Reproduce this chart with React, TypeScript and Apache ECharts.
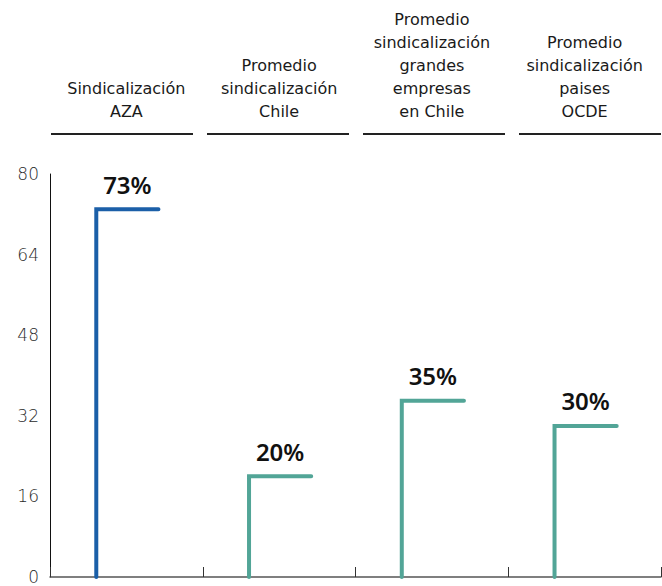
import React, { useEffect, useRef } from "react";
import * as echarts from "echarts";

const categories = [
  "Sindicalización\nAZA",
  "Promedio\nsindicalización\nChile",
  "Promedio\nsindicalización\ngrandes\nempresas\nen Chile",
  "Promedio\nsindicalización\npaises\nOCDE",
];
const values = [73, 20, 35, 30];
const colors = ["#1b5fa8", "#52a597"];
const yTicks = { min: 0, max: 80, interval: 16 };

const FONT = "'DejaVu Sans', 'Noto Sans', sans-serif";

export default function App() {
  const ref = useRef<HTMLDivElement>(null);
  useEffect(() => {
    if (!ref.current) return;
    const chart = echarts.init(ref.current, null, { renderer: "svg" });
    const underlines = [
      [51, 193],
      [207, 349],
      [363, 505],
      [519, 661],
    ];
    chart.setOption({
      animation: false,
      grid: { left: 50, right: 1, top: 174, bottom: 9, containLabel: false },
      xAxis: [
        {
          type: "category",
          data: categories,
          position: "bottom",
          boundaryGap: true,
          axisLine: { show: true, lineStyle: { color: "#555", width: 1.5 } },
          axisTick: { show: true, inside: true, length: 10, lineStyle: { color: "#333", width: 1 } },
          axisLabel: { show: false },
        },
        {
          type: "category",
          data: categories,
          position: "top",
          axisLine: { show: false },
          axisTick: { show: false },
          axisLabel: {
            show: true,
            interval: 0,
            hideOverlap: false,
            margin: 51,
            fontSize: 16,
            lineHeight: 23,
            color: "#1a1a1a",
            fontFamily: FONT,
            fontWeight: "normal",
            align: "center",
            verticalAlign: "bottom",
          },
        },
      ],
      yAxis: {
        type: "value",
        min: yTicks.min,
        max: yTicks.max,
        interval: yTicks.interval,
        axisLine: { show: true, lineStyle: { color: "#111", width: 1 } },
        axisTick: { show: false },
        splitLine: { show: false },
        axisLabel: { color: "#2a2a2a", fontSize: 17, fontFamily: FONT, fontWeight: 200, margin: 11 },
      },
      graphic: underlines.map(([a, b]) => ({
        type: "line",
        shape: { x1: a, y1: 134, x2: b, y2: 134 },
        style: { stroke: "#222", lineWidth: 2 },
      })),
      series: [
        {
          type: "custom",
          xAxisIndex: 0,
          data: values.map((v, i) => [i, v]),
          renderItem: (params: any, api: any) => {
            const i = api.value(0);
            const v = api.value(1);
            const base = api.coord([i, 0]);
            const top = api.coord([i, v]);
            const bw = api.size([1, 0])[0];
            const x0 = base[0] - bw * 0.197;
            const x1 = base[0] + bw * 0.21;
            const color = i === 0 ? colors[0] : colors[1];
            return {
              type: "group",
              children: [
                {
                  type: "polyline",
                  shape: { points: [[x0, base[1]], [x0, top[1]], [x1, top[1]]] },
                  style: { stroke: color, lineWidth: 4, fill: "none", lineJoin: "miter", lineCap: "round" },
                },
                {
                  type: "text",
                  x: base[0] + 1,
                  y: top[1] - 25,
                  style: {
                    text: v + "%",
                    textAlign: "center",
                    textVerticalAlign: "middle",
                    fontSize: 24,
                    fontWeight: 600,
                    fontFamily: "'Noto Sans', sans-serif",
                    fill: "#111",
                  },
                },
              ],
            };
          },
        },
      ],
    });
    return () => chart.dispose();
  }, []);
  return <div ref={ref} style={{ width: 662, height: 586, position: "absolute", left: 0, top: 0 }} />;
}
